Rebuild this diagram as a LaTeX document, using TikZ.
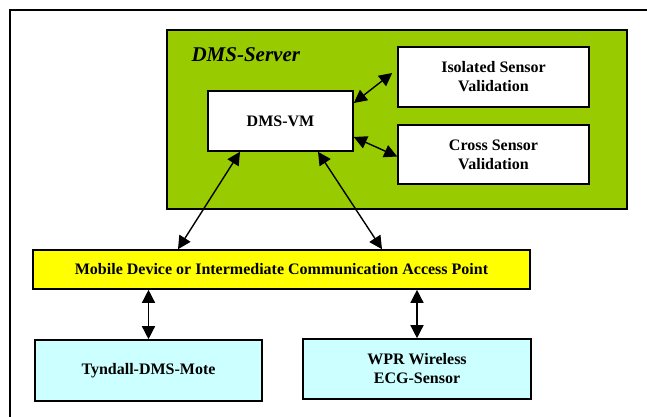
\documentclass[tikz,border=0pt]{standalone}
\usepackage{fontspec}
\setmainfont{Liberation Serif}
\usetikzlibrary{arrows.meta,positioning}
\tikzset{
  box/.style={
    rectangle,
    draw=black,
    line width=1.6pt,
    fill=white,
    align=center,
    inner sep=0pt,
    font=\fontsize{16}{19}\selectfont\bfseries
  },
  serverbox/.style={
    box,
    fill=srvgreen
  },
  accessbox/.style={
    box,
    fill=apyellow
  },
  sensorbox/.style={
    box,
    fill=sensorcyan
  },
  twoway/.style={
    {Triangle[length=13pt,width=13pt]}-{Triangle[length=13pt,width=13pt]},
    line width=1.4pt,
    draw=black
  }
}
\definecolor{srvgreen}{HTML}{99CC00}
\definecolor{apyellow}{HTML}{FFFF00}
\definecolor{sensorcyan}{HTML}{CCFFFF}

\begin{document}
\begin{tikzpicture}[x=1pt,y=-1pt]
  \useasboundingbox (0,0) rectangle (647,416);
  \draw[line width=2.4pt] (10,440) -- (10,10) -- (670,10);

  \node[serverbox, minimum width=460pt, minimum height=179pt] (server) at (397,119.5) {};
  \node[anchor=base west, font=\fontsize{21}{24}\selectfont\bfseries\itshape] (srvlabel) at (188,61) {DMS-Server};

  \node[box, minimum width=145pt, minimum height=60pt] (vm) at (280.5,121) {DMS-VM};
  \node[box, minimum width=191pt, minimum height=60pt] (iso) at (493.5,77) {Isolated Sensor\\Validation};
  \node[box, minimum width=191pt, minimum height=59pt] (cross) at (493.5,154.5) {Cross Sensor\\Validation};

  \node[accessbox, minimum width=497pt, minimum height=39pt] (ap) at (281.5,269.5) {Mobile Device or Intermediate Communication Access Point};

  \node[sensorbox, minimum width=227pt, minimum height=61pt] (mote) at (148.5,370.5) {Tyndall-DMS-Mote};
  \node[sensorbox, minimum width=228pt, minimum height=60pt] (ecg) at (417,369) {WPR Wireless\\ECG-Sensor};

  \draw[twoway] ([yshift=18pt]vm.east) -- ([shift={(-5pt,4pt)}]iso.west);
  \draw[twoway] ([yshift=-16pt]vm.east) -- ([yshift=-2pt]cross.west);
  \draw[twoway] ([xshift=-40.5pt]vm.south) -- ([xshift=-103.5pt]ap.north);
  \draw[twoway] ([xshift=37.5pt]vm.south) -- ([xshift=100.5pt]ap.north);
  \draw[twoway] (ap.south -| mote.north) -- (mote.north);
  \draw[twoway] (ap.south -| ecg.north) -- (ecg.north);
\end{tikzpicture}
\end{document}
